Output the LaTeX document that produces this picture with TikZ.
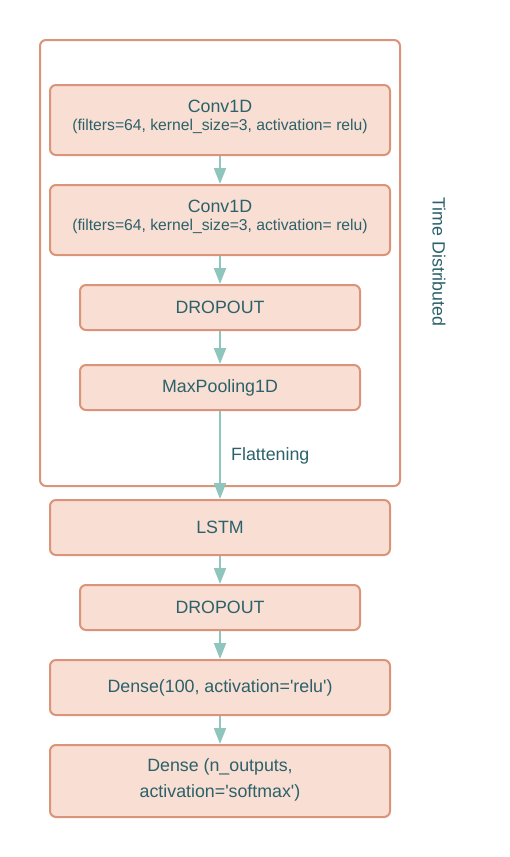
\documentclass[tikz,border=0pt]{standalone}
\usepackage{fontspec}
\setmainfont{Liberation Sans}
\usetikzlibrary{arrows.meta}
\definecolor{strk}{HTML}{DB9479}
\definecolor{fll}{HTML}{F8DED3}
\definecolor{txt}{HTML}{2B6169}
\definecolor{arr}{HTML}{8EC5BD}
\tikzset{
  layer/.style={draw=strk, fill=fll, line width=2pt, rounded corners=6pt, text=txt, align=center, inner sep=0pt, font=\fontsize{17.8}{26}\selectfont},
  wide/.style={layer, minimum width=340pt},
  narrow/.style={layer, minimum width=280pt, minimum height=45pt},
  flow/.style={draw=arr, line width=2pt, -{Triangle[length=16pt,width=12pt]}, shorten >=0pt},
  lbl/.style={text=txt, inner sep=0pt, font=\fontsize{17.8}{22}\selectfont},
  twoline/.style={text=txt, inner sep=0pt, align=center, font=\fontsize{17.8}{21}\selectfont}
}
\newcommand{\params}{{\fontsize{15.7}{20}\selectfont (filters=64, kernel\_size=3, activation= relu)}}
\begin{document}
\begin{tikzpicture}[x=1pt,y=-1pt]
\useasboundingbox (0,0) rectangle (510,857);
\draw[draw=strk, line width=2pt, rounded corners=6pt] (40,40) rectangle (400,486);
\node[wide, minimum height=70pt] (c1) at (220,120) {};
\node[twoline] (c1t) at (220,116.5) {Conv1D\\[-3pt]\params};
\node[wide, minimum height=70pt] (c2) at (220,220) {};
\node[twoline] (c2t) at (220,216.5) {Conv1D\\[-3pt]\params};
\node[narrow] (d1) at (220,307.5) {DROPOUT};
\node[narrow] (mp) at (220,387.5) {MaxPooling1D};
\node[wide, minimum height=55pt] (ls) at (220,527.5) {LSTM};
\node[narrow] (d2) at (220,607.5) {DROPOUT};
\node[wide, minimum height=55pt] (de) at (220,687.5) {Dense(100, activation=\textquotesingle relu\textquotesingle)};
\node[wide, minimum height=72pt] (out) at (220,781) {};
\node[twoline, font=\fontsize{17.8}{26}\selectfont] (outt) at (220,779.5) {Dense (n\_outputs,\\activation=\textquotesingle softmax\textquotesingle)};
\node[lbl, rotate=-90] (td) at (439,262) {Time Distributed};
\node[lbl, anchor=west] (fl) at (231,456) {Flattening};
\draw[flow] (c1) -- (c2);
\draw[flow] (c2) -- (d1);
\draw[flow] (d1) -- (mp);
\draw[flow] (mp) -- (ls);
\draw[flow] (ls) -- (d2);
\draw[flow] (d2) -- (de);
\draw[flow] (de) -- (out);
\end{tikzpicture}
\end{document}
